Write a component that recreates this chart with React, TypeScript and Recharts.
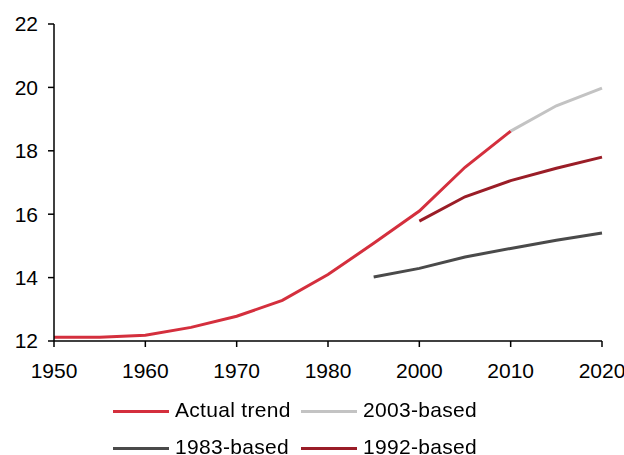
import React from "react"
import { LineChart, Line, XAxis, YAxis, Legend } from "recharts"

const years = ["1950", "1955", "1960", "1965", "1970", "1975", "1980", "1990", "2000", "2005", "2010", "2015", "2020"]

const actualTrend = [12.12, 12.12, 12.18, 12.43, 12.78, 13.28, 14.1, 15.08, 16.1, 17.48, 18.62, null, null]
const based2003 = [null, null, null, null, null, null, null, null, null, null, 18.62, 19.42, 19.98]
const based1983 = [null, null, null, null, null, null, null, 14.02, 14.29, 14.65, 14.92, 15.18, 15.41]
const based1992 = [null, null, null, null, null, null, null, null, 15.78, 16.55, 17.06, 17.45, 17.8]

const yTicks = [12, 14, 16, 18, 20, 22]

const data = years.map((year, i) => ({
  year,
  actual: actualTrend[i],
  b2003: based2003[i],
  b1983: based1983[i],
  b1992: based1992[i],
}))

const legendItems = [
  { label: "Actual trend", color: "#d42f3d" },
  { label: "2003-based", color: "#c3c3c3" },
  { label: "1983-based", color: "#4a4a4a" },
  { label: "1992-based", color: "#9a1d27" },
]

const font = "'Liberation Sans', Arial, sans-serif"

function LegendBox() {
  return (
    <div
      style={{
        display: "grid",
        gridTemplateColumns: "188px 200px",
        rowGap: 14,
        paddingLeft: 113,
        fontFamily: font,
        fontSize: 21,
        letterSpacing: 0.3,
        color: "#000",
      }}
    >
      {legendItems.map((it) => (
        <div key={it.label} style={{ display: "flex", alignItems: "center", height: 23, lineHeight: "23px" }}>
          <span
            style={{
              display: "inline-block",
              width: 56,
              height: 3,
              background: it.color,
              marginRight: 6,
              position: "relative",
              top: 2,
            }}
          />
          <span>{it.label}</span>
        </div>
      ))}
    </div>
  )
}

export default function App() {
  return (
    <div style={{ position: "fixed", left: 0, top: 0, background: "#fff" }}>
      <LineChart width={624} height={455} data={data} margin={{ top: 24, right: 22, left: 0, bottom: 14 }}>
        <XAxis
          dataKey="year"
          interval={1}
          height={40}
          stroke="#000"
          strokeWidth={1.5}
          tickSize={6}
          tickMargin={16}
          tick={{ fill: "#000", fontSize: 21, fontFamily: font }}
        />
        <YAxis
          domain={[12, 22]}
          ticks={yTicks}
          width={54}
          stroke="#000"
          strokeWidth={1.5}
          tickSize={6}
          tickMargin={10}
          tick={{ fill: "#000", fontSize: 21, fontFamily: font }}
        />
        <Legend content={() => <LegendBox />} wrapperStyle={{ top: 398, left: 0, width: 624 }} />
        <Line dataKey="b1983" stroke="#4a4a4a" strokeWidth={3} dot={false} isAnimationActive={false} />
        <Line dataKey="b1992" stroke="#9a1d27" strokeWidth={3} dot={false} isAnimationActive={false} />
        <Line dataKey="b2003" stroke="#c3c3c3" strokeWidth={3} dot={false} isAnimationActive={false} />
        <Line dataKey="actual" stroke="#d42f3d" strokeWidth={3} dot={false} isAnimationActive={false} />
      </LineChart>
    </div>
  )
}
